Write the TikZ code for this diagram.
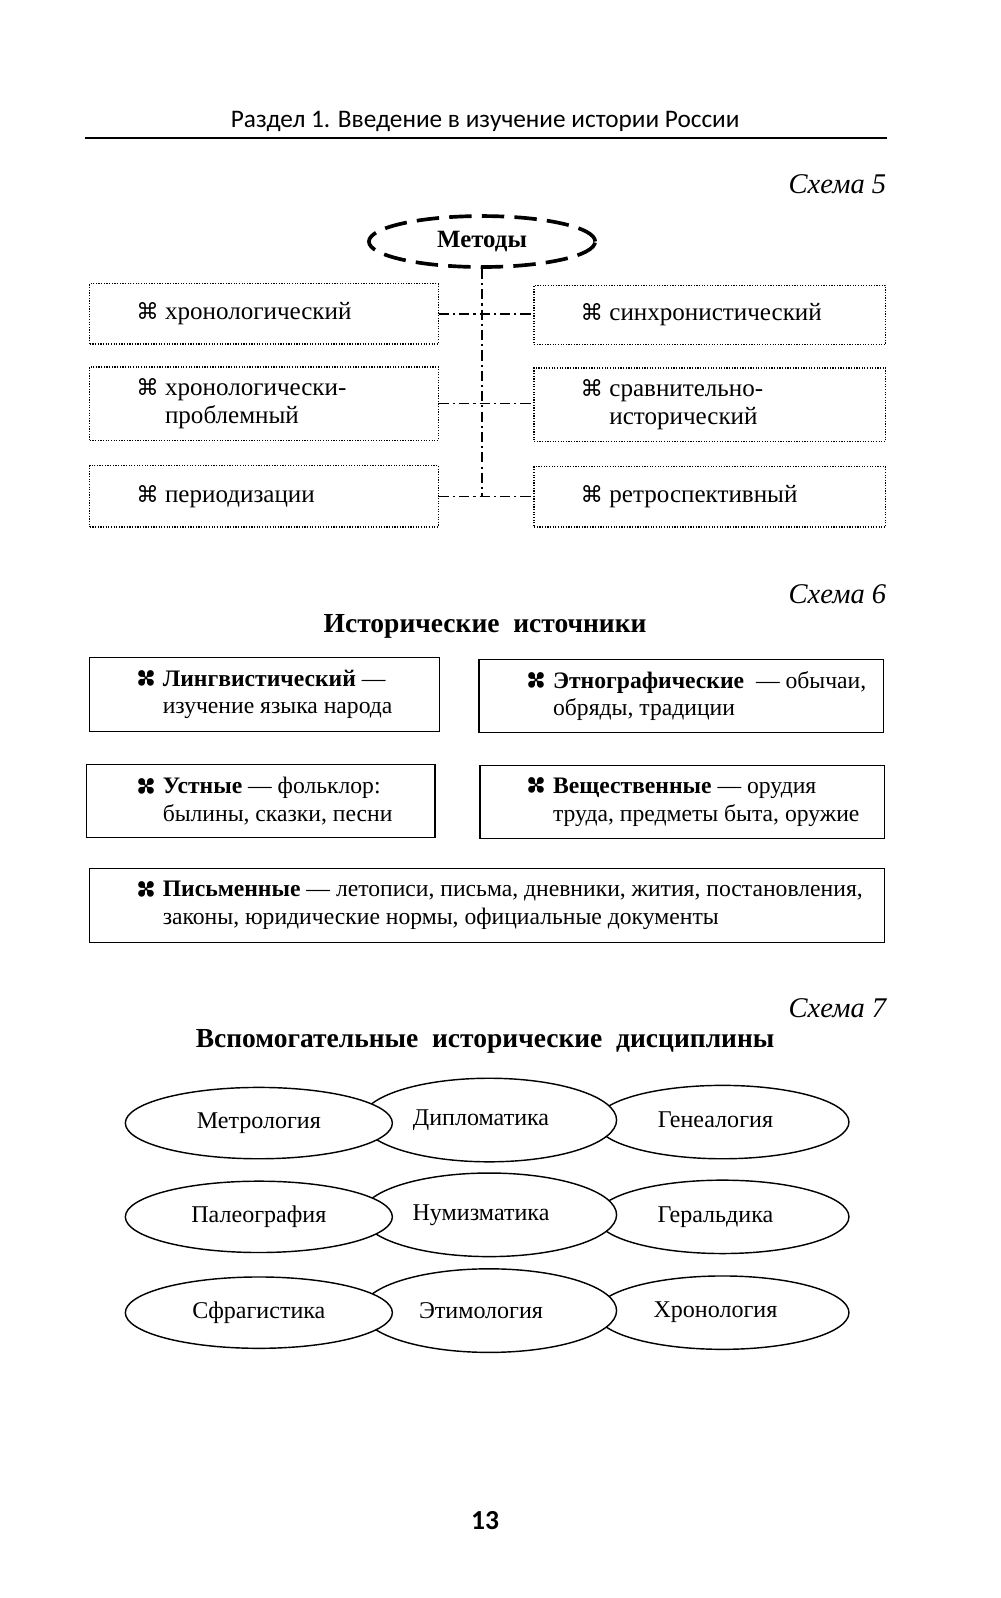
\documentclass[tikz,border=0pt]{standalone}
\usepackage{fontspec}
\usepackage{graphicx}
\setmainfont{Liberation Serif}
\newfontfamily\headfont{Carlito}
\newfontfamily\symfont{DejaVu Sans}
\usetikzlibrary{shapes.geometric,positioning}

\newcommand{\cmdsign}{{\symfont\fontsize{11}{11}\selectfont ⌘}}
\newcommand{\leafsign}{\makebox[15pt][l]{\smash{\raisebox{-0.8pt}{\symfont\fontsize{12.5}{12.5}\selectfont\rotatebox[origin=c]{45}{✤}}}}}

\begin{document}
\begin{tikzpicture}[x=0.5pt,y=-0.5pt,
	every node/.style={font=\fontsize{12.3}{13.5}\selectfont},
	methbox/.style={draw,line width=0.6pt,dash pattern=on 0.6pt off 0.7pt,inner sep=0pt},
	srcbox/.style={draw,line width=0.7pt,inner sep=0pt},
	boxtext/.style={align=left,inner sep=0pt},
	srctext/.style={align=left,inner sep=0pt,font=\fontsize{11.6}{13.5}\selectfont},
	disc/.style={ellipse,draw,line width=0.7pt,fill=white,inner sep=0pt,font=\fontsize{11.8}{13}\selectfont},
	link/.style={line width=0.6pt,dash pattern=on 5pt off 2pt on 1pt off 2pt},
	schemelabel/.style={anchor=base east,inner sep=0pt,font=\fontsize{14}{15}\selectfont\itshape},
	heading/.style={font=\fontsize{13.5}{15}\selectfont\bfseries}]
	\useasboundingbox (0,0) rectangle (982,1568);

	% page head
	\node[font=\headfont\fontsize{12.4}{13}\selectfont,anchor=base] (head) at (476,125) {Раздел 1. Введение в изучение истории России};
	\coordinate (ruleL) at (83,135);
	\coordinate (ruleR) at (870,135);
	\draw[line width=1pt] (ruleL) -- (ruleR);

	% scheme 5
	\node[schemelabel] (sch5) at (870,190) {Схема 5};
	\node[ellipse,draw,line width=1.8pt,dash pattern=on 11pt off 5pt,minimum width=111pt,minimum height=25pt,inner sep=0pt,font=\fontsize{12.2}{13}\selectfont\bfseries] (meth) at (473,237) {Методы};

	\node[methbox,minimum width=171pt,minimum height=29.5pt] (l1) at (259,308) {};
	\node[methbox,minimum width=171pt,minimum height=36pt] (l2) at (259,396) {};
	\node[methbox,minimum width=171pt,minimum height=30pt] (l3) at (259,487) {};
	\node[methbox,minimum width=172.5pt,minimum height=29pt] (r1) at (696.5,309) {};
	\node[methbox,minimum width=172.5pt,minimum height=36pt] (r2) at (696.5,397) {};
	\node[methbox,minimum width=172.5pt,minimum height=29.5pt] (r3) at (696.5,487.5) {};

	\node[boxtext,right=23pt of l1.west] (l1t) {\cmdsign\ хронологический};
	\node[boxtext,right=23pt of l2.west] (l2t) {\cmdsign\ хронологически-\\\phantom{\cmdsign\ }проблемный};
	\node[boxtext,right=23pt of l3.west] (l3t) {\cmdsign\ периодизации};
	\node[boxtext,right=23pt of r1.west] (r1t) {\cmdsign\ синхронистический};
	\node[boxtext,right=23pt of r2.west] (r2t) {\cmdsign\ сравнительно-\\\phantom{\cmdsign\ }исторический};
	\node[boxtext,right=23pt of r3.west] (r3t) {\cmdsign\ ретроспективный};

	\draw[link] (meth.south) -- (meth.south |- l3.east);
	\draw[link] (l1.east) -- (r1.west |- l1.east);
	\draw[link] (l2.east) -- (r2.west |- l2.east);
	\draw[link] (l3.east) -- (r3.west |- l3.east);

	% scheme 6
	\node[schemelabel] (sch6) at (870,592) {Схема 6};
	\node[heading] (src) at (476,615) {Исторические\ \ источники};

	\node[srcbox,minimum width=171.5pt,minimum height=36.5pt] (s1) at (259.5,681.5) {};
	\node[srcbox,minimum width=198.5pt,minimum height=36pt] (s2) at (668.5,683) {};
	\node[srcbox,minimum width=171pt,minimum height=36pt] (s3) at (256,786) {};
	\node[srcbox,minimum width=198.5pt,minimum height=36pt] (s4) at (669.5,787) {};
	\node[srcbox,minimum width=390pt,minimum height=36.5pt] (s5) at (478,888.5) {};

	\node[srctext,right=21pt of s1.west] (s1t) {\leafsign\textbf{Лингвистический} —\\\phantom{\leafsign}изучение языка народа};
	\node[srctext,right=21.5pt of s2.west] (s2t) {\leafsign\textbf{Этнографические} \ — обычаи,\\\phantom{\leafsign}обряды, традиции};
	\node[srctext,right=22.5pt of s3.west] (s3t) {\leafsign\textbf{Устные} — фольклор:\\\phantom{\leafsign}былины, сказки, песни};
	\node[srctext,right=21pt of s4.west] (s4t) {\leafsign\textbf{Вещественные} — орудия\\\phantom{\leafsign}труда, предметы быта, оружие};
	\node[srctext,right=21pt of s5.west] (s5t) {\leafsign\textbf{Письменные} — летописи, письма, дневники, жития, постановления,\\\phantom{\leafsign}законы, юридические нормы, официальные документы};

	% scheme 7
	\node[schemelabel] (sch7) at (870,998) {Схема 7};
	\node[heading] (aux) at (476,1022) {Вспомогательные\ \ исторические\ \ дисциплины};

	% right column first, left column last (on top)
	\node[disc,minimum width=124pt,minimum height=36pt] (gen) at (709,1101) {\hspace*{-7pt}\raisebox{2pt}{Генеалогия}};
	\node[disc,minimum width=124pt,minimum height=36pt] (ger) at (709,1194) {\hspace*{-7pt}Геральдика};
	\node[disc,minimum width=124pt,minimum height=36pt] (chr) at (709,1288) {\hspace*{-7pt}Хронология};
	\node[disc,minimum width=125pt,minimum height=41pt] (dip) at (480,1099) {\hspace*{-8pt}Дипломатика};
	\node[disc,minimum width=125pt,minimum height=41pt] (num) at (480,1192) {\hspace*{-8pt}Нумизматика};
	\node[disc,minimum width=125pt,minimum height=41pt] (ety) at (480,1286) {\hspace*{-8pt}Этимология};
	\node[disc,minimum width=131pt,minimum height=35pt] (met) at (254,1102) {Метрология};
	\node[disc,minimum width=131pt,minimum height=35pt] (pal) at (254,1194) {Палеография};
	\node[disc,minimum width=131pt,minimum height=35pt] (sfr) at (254,1288) {Сфрагистика};

	% page number
	\node[font=\headfont\fontsize{13.5}{14}\selectfont\bfseries] (page) at (476,1492) {13};
\end{tikzpicture}
\end{document}
